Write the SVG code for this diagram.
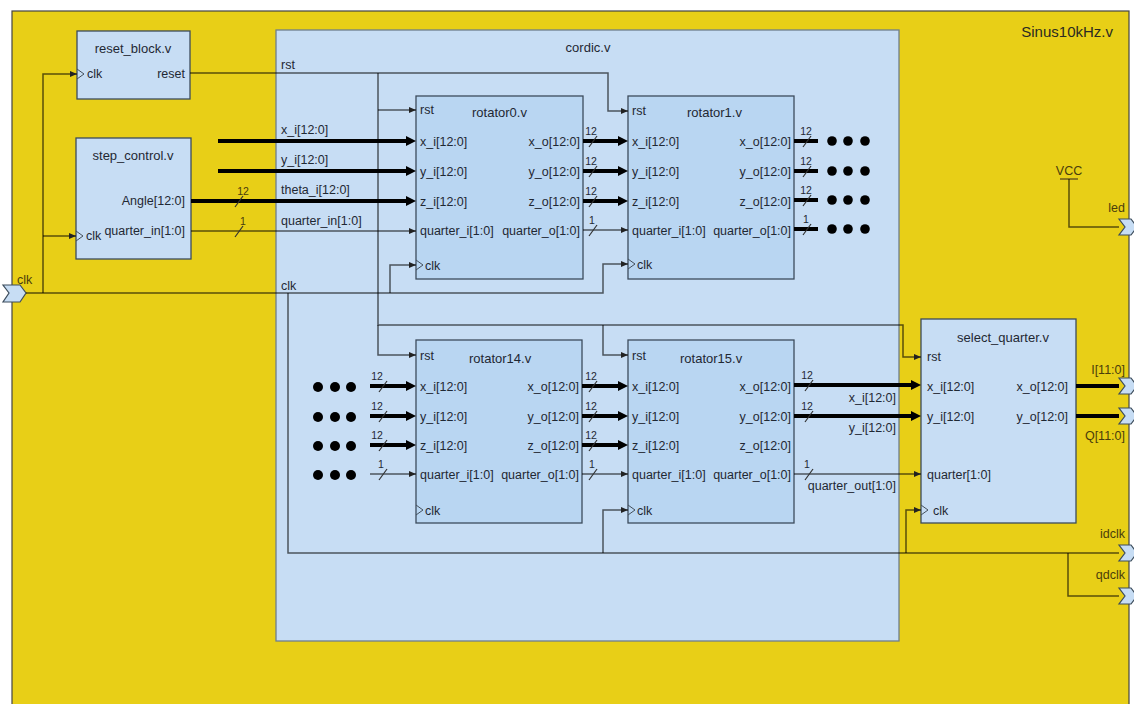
<svg xmlns="http://www.w3.org/2000/svg" width="1134" height="704" viewBox="0 0 1134 704">
<style>
text{font-family:"Liberation Sans",Arial,sans-serif;font-size:12.5px;fill:#1f2833}
.ti{font-size:13px}
.big{font-size:15px;fill:#2a2a22}
.n{font-size:10.5px}
.y{fill:#4a3d0c}
.e{text-anchor:end}
.m{text-anchor:middle}
.box{fill:#c7ddf4;stroke:#3c4c5c;stroke-width:1.3}
.rot{fill:#b9d6f2;stroke:#3c4c5c;stroke-width:1.3}
.ck{fill:none;stroke:#44505c;stroke-width:1}
.w{fill:none;stroke:#000;stroke-opacity:.62;stroke-width:1.5}
.b{fill:none;stroke:#000;stroke-width:4}
.sl{stroke:#333;stroke-width:1.2}
.port{fill:#c7ddf4;stroke:#3c4c5c;stroke-width:1.2}
.dot{fill:#000}
</style>
<defs>
<marker id="a" viewBox="0 0 7 6" refX="7" refY="3" markerWidth="7" markerHeight="6" markerUnits="userSpaceOnUse" orient="auto"><path d="M0,0L7,3L0,6z" fill="#222"/></marker>
<marker id="ab" viewBox="0 0 10 10" refX="3" refY="5" markerWidth="10" markerHeight="10" markerUnits="userSpaceOnUse" orient="auto"><path d="M0,0L10,5L0,10z" fill="#000"/></marker>
</defs>

<g id="sinus10khz">
<rect x="12" y="11" width="1117" height="720" fill="#e8cf17" stroke="#444" stroke-width="1.2"/>
<text class="big e" x="1113" y="37">Sinus10kHz.v</text>
</g>

<g id="cordic">
<rect x="276" y="30" width="623" height="611" fill="#c7ddf4" stroke="#6f7f8c" stroke-width="1.3"/>
<text class="ti m" x="588" y="52">cordic.v</text>
<text x="281" y="69">rst</text>
<text x="281" y="134">x_i[12:0]</text>
<text x="281" y="164">y_i[12:0]</text>
<text x="281" y="194">theta_i[12:0]</text>
<text x="281" y="225">quarter_in[1:0]</text>
<text x="281" y="290">clk</text>
</g>

<g id="reset_block">
<rect class="box" x="77" y="31" width="113" height="68"/>
<text class="ti m" x="133" y="53">reset_block.v</text>
<path class="ck" d="M77,69L84,74L77,79"/>
<text x="87" y="78">clk</text>
<text class="e" x="185" y="78">reset</text>
</g>

<g id="step_control">
<rect class="box" x="76" y="138" width="115" height="121"/>
<text class="ti m" x="133" y="160">step_control.v</text>
<text class="e" x="185" y="205">Angle[12:0]</text>
<text class="e" x="185" y="235">quarter_in[1:0]</text>
<path class="ck" d="M76,231L83,236L76,241"/>
<text x="86" y="240">clk</text>
</g>

<g id="rotator0">
<rect class="rot" x="416" y="96" width="167" height="183"/>
<text class="ti" x="472" y="117">rotator0.v</text>
<text x="420" y="114">rst</text>
<text x="420" y="146">x_i[12:0]</text>
<text x="420" y="176">y_i[12:0]</text>
<text x="420" y="206">z_i[12:0]</text>
<text x="420" y="235">quarter_i[1:0]</text>
<text class="e" x="580" y="146">x_o[12:0]</text>
<text class="e" x="580" y="176">y_o[12:0]</text>
<text class="e" x="580" y="206">z_o[12:0]</text>
<text class="e" x="580" y="235">quarter_o[1:0]</text>
<path class="ck" d="M416,260L423,265L416,270"/>
<text x="425" y="270">clk</text>
</g>

<g id="rotator1">
<rect class="rot" x="628" y="96" width="166" height="183"/>
<text class="ti" x="687" y="117">rotator1.v</text>
<text x="632" y="115">rst</text>
<text x="632" y="146">x_i[12:0]</text>
<text x="632" y="176">y_i[12:0]</text>
<text x="632" y="206">z_i[12:0]</text>
<text x="632" y="235">quarter_i[1:0]</text>
<text class="e" x="791" y="146">x_o[12:0]</text>
<text class="e" x="791" y="176">y_o[12:0]</text>
<text class="e" x="791" y="206">z_o[12:0]</text>
<text class="e" x="791" y="235">quarter_o[1:0]</text>
<path class="ck" d="M628,259L635,264L628,269"/>
<text x="637" y="269">clk</text>
</g>

<g id="rotator14">
<rect class="rot" x="416" y="340" width="166" height="183"/>
<text class="ti" x="469" y="363">rotator14.v</text>
<text x="420" y="360">rst</text>
<text x="420" y="391">x_i[12:0]</text>
<text x="420" y="421">y_i[12:0]</text>
<text x="420" y="450">z_i[12:0]</text>
<text x="420" y="479">quarter_i[1:0]</text>
<text class="e" x="579" y="391">x_o[12:0]</text>
<text class="e" x="579" y="421">y_o[12:0]</text>
<text class="e" x="579" y="450">z_o[12:0]</text>
<text class="e" x="579" y="479">quarter_o[1:0]</text>
<path class="ck" d="M416,505L423,510L416,515"/>
<text x="425" y="515">clk</text>
</g>

<g id="rotator15">
<rect class="rot" x="628" y="340" width="166" height="183"/>
<text class="ti" x="680" y="363">rotator15.v</text>
<text x="632" y="360">rst</text>
<text x="632" y="391">x_i[12:0]</text>
<text x="632" y="421">y_i[12:0]</text>
<text x="632" y="450">z_i[12:0]</text>
<text x="632" y="479">quarter_i[1:0]</text>
<text class="e" x="791" y="391">x_o[12:0]</text>
<text class="e" x="791" y="421">y_o[12:0]</text>
<text class="e" x="791" y="450">z_o[12:0]</text>
<text class="e" x="791" y="479">quarter_o[1:0]</text>
<path class="ck" d="M628,505L635,510L628,515"/>
<text x="637" y="515">clk</text>
</g>

<g id="select_quarter">
<rect class="box" x="921" y="319" width="155" height="204"/>
<text class="ti m" x="1003" y="342">select_quarter.v</text>
<text x="927" y="361">rst</text>
<text x="927" y="391">x_i[12:0]</text>
<text x="927" y="421">y_i[12:0]</text>
<text x="927" y="479">quarter[1:0]</text>
<text class="e" x="1068" y="391">x_o[12:0]</text>
<text class="e" x="1068" y="421">y_o[12:0]</text>
<path class="ck" d="M921,505L928,510L921,515"/>
<text x="933" y="515">clk</text>
</g>

<g id="port_clk">
<polygon class="port" points="3,285 20,285 26,293 20,302 3,302 9,293"/>
<text class="y" x="17" y="284">clk</text>
</g>
<g id="vcc">
<text class="y m" x="1069" y="175">VCC</text>
<line x1="1060" y1="179" x2="1078" y2="179" stroke="#6e5c1c" stroke-width="1.5"/>
</g>
<g id="port_led">
<polygon class="port" points="1119,219 1131,219 1137,227 1131,235 1119,235 1125,227"/>
<text class="y e" x="1125" y="212">led</text>
</g>
<g id="port_I">
<polygon class="port" points="1119,378 1131,378 1137,386 1131,394 1119,394 1125,386"/>
<text class="y e" x="1125" y="374">I[11:0]</text>
</g>
<g id="port_Q">
<polygon class="port" points="1119,408 1131,408 1137,416 1131,424 1119,424 1125,416"/>
<text class="y e" x="1125" y="440">Q[11:0]</text>
</g>
<g id="port_idclk">
<polygon class="port" points="1119,545 1131,545 1137,553 1131,561 1119,561 1125,553"/>
<text class="y e" x="1125" y="538">idclk</text>
</g>
<g id="port_qdclk">
<polygon class="port" points="1119,588 1131,588 1137,596 1131,604 1119,604 1125,596"/>
<text class="y e" x="1125" y="579">qdclk</text>
</g>

<g id="connectors">
<!-- clk net -->
<path class="w" d="M26,293H603V264H628" marker-end="url(#a)"/>
<path class="w" d="M43,293V74H77" marker-end="url(#a)"/>
<path class="w" d="M43,236H76" marker-end="url(#a)"/>
<path class="w" d="M390,293V265H416" marker-end="url(#a)"/>
<path class="w" d="M288,293V553H1119"/>
<path class="w" d="M603,553V510H628" marker-end="url(#a)"/>
<path class="w" d="M906,553V510H921" marker-end="url(#a)"/>
<path class="w" d="M1068,553V596H1119"/>
<!-- rst net -->
<path class="w" d="M190,73H608V111H628" marker-end="url(#a)"/>
<path class="w" d="M378,73V325H903V357H921" marker-end="url(#a)"/>
<path class="w" d="M378,110H416" marker-end="url(#a)"/>
<path class="w" d="M378,325V355H416" marker-end="url(#a)"/>
<path class="w" d="M603,325V355H628" marker-end="url(#a)"/>
<!-- VCC -->
<path class="w" d="M1069,179V227H1119"/>
<!-- inputs to rotator0 -->
<path class="b" d="M218,141H409" marker-end="url(#ab)"/>
<path class="b" d="M218,171H409" marker-end="url(#ab)"/>
<path class="b" d="M191,201H409" marker-end="url(#ab)"/>
<path class="w" d="M191,231H416" marker-end="url(#a)"/>
<!-- rotator0 -> rotator1 -->
<path class="b" d="M583,141H621" marker-end="url(#ab)"/>
<path class="b" d="M583,171H621" marker-end="url(#ab)"/>
<path class="b" d="M583,201H621" marker-end="url(#ab)"/>
<path class="w" d="M583,230H628" marker-end="url(#a)"/>
<!-- rotator1 stubs -->
<path class="b" d="M794,141H818"/>
<path class="b" d="M794,171H818"/>
<path class="b" d="M794,200H818"/>
<path class="b" d="M794,229H818" stroke-width="3"/>
<!-- rotator14 inputs -->
<path class="b" d="M370,386H409" marker-end="url(#ab)"/>
<path class="b" d="M370,416H409" marker-end="url(#ab)"/>
<path class="b" d="M370,445H409" marker-end="url(#ab)"/>
<path class="w" d="M370,474H416" marker-end="url(#a)"/>
<!-- rotator14 -> rotator15 -->
<path class="b" d="M582,386H621" marker-end="url(#ab)"/>
<path class="b" d="M582,416H621" marker-end="url(#ab)"/>
<path class="b" d="M582,445H621" marker-end="url(#ab)"/>
<path class="w" d="M582,474H628" marker-end="url(#a)"/>
<!-- rotator15 -> select_quarter -->
<path class="b" d="M794,385H914" marker-end="url(#ab)"/>
<path class="b" d="M794,416H914" marker-end="url(#ab)"/>
<path class="w" d="M794,474H921" marker-end="url(#a)"/>
<text class="e" x="896" y="402">x_i[12:0]</text>
<text class="e" x="896" y="432">y_i[12:0]</text>
<text class="e" x="896" y="490">quarter_out[1:0]</text>
<!-- select_quarter outputs -->
<path class="b" d="M1076,386H1119"/>
<path class="b" d="M1076,416H1119"/>
<!-- bus width slashes -->
<line class="sl" x1="235" y1="207" x2="243" y2="196"/><text class="n m y" x="243" y="195">12</text>
<line class="sl" x1="235" y1="237" x2="243" y2="226"/><text class="n m y" x="243" y="225">1</text>
<line class="sl" x1="589" y1="147" x2="597" y2="136"/><text class="n m" x="591" y="135">12</text>
<line class="sl" x1="589" y1="177" x2="597" y2="166"/><text class="n m" x="591" y="165">12</text>
<line class="sl" x1="589" y1="207" x2="597" y2="196"/><text class="n m" x="591" y="195">12</text>
<line class="sl" x1="589" y1="236" x2="597" y2="225"/><text class="n m" x="592" y="224">1</text>
<line class="sl" x1="803" y1="147" x2="811" y2="136"/><text class="n m" x="806" y="135">12</text>
<line class="sl" x1="803" y1="177" x2="811" y2="166"/><text class="n m" x="806" y="165">12</text>
<line class="sl" x1="803" y1="206" x2="811" y2="195"/><text class="n m" x="806" y="194">12</text>
<line class="sl" x1="803" y1="235" x2="811" y2="224"/><text class="n m" x="806" y="223">1</text>
<line class="sl" x1="379" y1="392" x2="387" y2="381"/><text class="n m" x="377" y="380">12</text>
<line class="sl" x1="379" y1="422" x2="387" y2="411"/><text class="n m" x="377" y="410">12</text>
<line class="sl" x1="379" y1="451" x2="387" y2="440"/><text class="n m" x="377" y="439">12</text>
<line class="sl" x1="379" y1="480" x2="387" y2="469"/><text class="n m" x="381" y="468">1</text>
<line class="sl" x1="589" y1="392" x2="597" y2="381"/><text class="n m" x="591" y="380">12</text>
<line class="sl" x1="589" y1="422" x2="597" y2="411"/><text class="n m" x="591" y="410">12</text>
<line class="sl" x1="589" y1="451" x2="597" y2="440"/><text class="n m" x="591" y="439">12</text>
<line class="sl" x1="589" y1="480" x2="597" y2="469"/><text class="n m" x="592" y="468">1</text>
<line class="sl" x1="805" y1="391" x2="813" y2="380"/><text class="n m" x="807" y="379">12</text>
<line class="sl" x1="805" y1="422" x2="813" y2="411"/><text class="n m" x="807" y="410">12</text>
<line class="sl" x1="805" y1="480" x2="813" y2="469"/><text class="n m" x="807" y="468">1</text>
</g>

<g id="ellipsis_out">
<circle class="dot" cx="832" cy="141" r="4.8"/><circle class="dot" cx="848" cy="141" r="4.8"/><circle class="dot" cx="865" cy="141" r="4.8"/>
<circle class="dot" cx="832" cy="171" r="4.8"/><circle class="dot" cx="848" cy="171" r="4.8"/><circle class="dot" cx="865" cy="171" r="4.8"/>
<circle class="dot" cx="832" cy="200" r="4.8"/><circle class="dot" cx="848" cy="200" r="4.8"/><circle class="dot" cx="865" cy="200" r="4.8"/>
<circle class="dot" cx="832" cy="229" r="4.8"/><circle class="dot" cx="848" cy="229" r="4.8"/><circle class="dot" cx="865" cy="229" r="4.8"/>
</g>
<g id="ellipsis_in">
<circle class="dot" cx="318" cy="387" r="5"/><circle class="dot" cx="335" cy="387" r="5"/><circle class="dot" cx="351" cy="387" r="5"/>
<circle class="dot" cx="318" cy="417" r="5"/><circle class="dot" cx="335" cy="417" r="5"/><circle class="dot" cx="351" cy="417" r="5"/>
<circle class="dot" cx="318" cy="446" r="5"/><circle class="dot" cx="335" cy="446" r="5"/><circle class="dot" cx="351" cy="446" r="5"/>
<circle class="dot" cx="318" cy="475" r="5"/><circle class="dot" cx="335" cy="475" r="5"/><circle class="dot" cx="351" cy="475" r="5"/>
</g>
</svg>
